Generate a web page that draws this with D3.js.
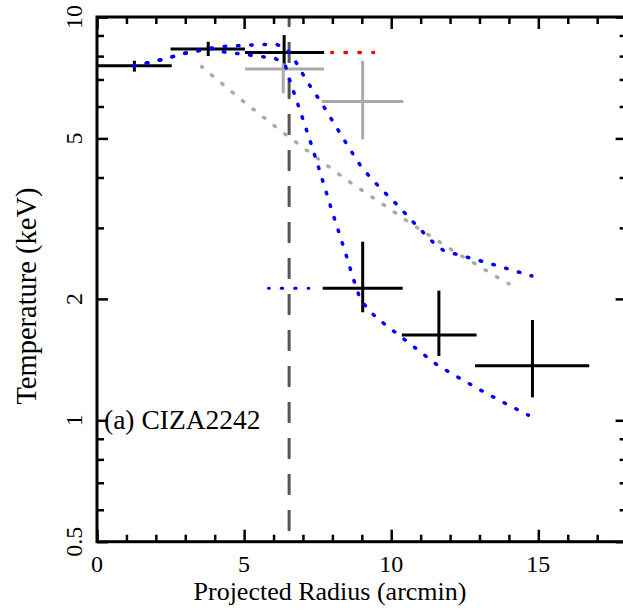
<!DOCTYPE html>
<html>
<head>
<meta charset="utf-8">
<script src="https://cdn.jsdelivr.net/npm/d3@7"></script>
<style>
  html, body { margin: 0; padding: 0; background: #fff; }
  svg { display: block; }
  text { font-family: "Liberation Serif", "Times New Roman", Times, serif; fill: #000; }
</style>
</head>
<body>
<script>
// ---------------- data ----------------
const xMajorTicks = [0, 5, 10, 15];
const xMinorTicks = [1, 2, 3, 4, 6, 7, 8, 9, 11, 12, 13, 14, 16, 17];
const yMajorTicks = [0.5, 1, 2, 5, 10];
const yMinorTicks = [0.6, 0.7, 0.8, 0.9, 3, 4, 6, 7, 8, 9];

// black data points (projected radius, temperature)
const blackR    = [1.27, 3.78, 6.36, 9.03, 11.62, 14.8];
const blackRLo  = [0.0, 2.50, 5.03, 7.67, 10.36, 12.85];
const blackRHi  = [2.54, 5.03, 7.72, 10.39, 12.90, 16.73];
const blackT    = [7.57, 8.33, 8.17, 2.125, 1.627, 1.365];
const blackTLo  = [7.32, 8.00, 7.56, 1.853, 1.443, 1.14];
const blackTHi  = [7.79, 8.68, 9.02, 2.773, 2.097, 1.773];

// grey data points
const greyR   = [6.33, 9.03];
const greyRLo = [5.03, 7.64];
const greyRHi = [7.72, 10.41];
const greyT   = [7.43, 6.17];
const greyTLo = [6.47, 4.97];
const greyTHi = [7.68, 7.78];

// blue dotted model curve, gentle branch
const blueUpperR = [1.26, 2.14, 2.99, 3.86, 4.28, 5.18, 6.08, 6.45, 6.70, 7.13, 7.62, 8.09, 8.54, 9.02, 9.62, 10.24, 10.84, 11.45, 11.80, 12.65, 13.50, 14.78];
const blueUpperT = [7.57, 7.82, 8.13, 8.36, 8.45, 8.52, 8.57, 8.33, 7.87, 6.94, 6.14, 5.40, 4.77, 4.21, 3.77, 3.40, 3.05, 2.75, 2.63, 2.53, 2.43, 2.28];
// blue dotted model curve, steep branch
const blueLowerR = [1.26, 2.14, 2.99, 3.86, 4.28, 5.18, 6.05, 6.39, 6.50, 6.79, 7.21, 7.61, 8.00, 8.41, 8.80, 8.97, 9.48, 10.53, 11.57, 12.34, 13.11, 13.89, 14.66];
const blueLowerT = [7.57, 7.82, 8.13, 8.36, 8.20, 8.05, 7.90, 7.63, 7.15, 6.19, 5.02, 4.06, 3.28, 2.65, 2.14, 1.98, 1.80, 1.57, 1.37, 1.27, 1.18, 1.10, 1.03];
// grey dotted curve
const greyCurveR = [3.56, 4.92, 6.31, 7.01, 7.72, 8.43, 9.17, 9.88, 10.62, 11.38, 12.11, 12.87, 13.62, 14.0];
const greyCurveT = [7.53, 6.22, 5.18, 4.74, 4.34, 3.97, 3.65, 3.37, 3.09, 2.85, 2.63, 2.44, 2.26, 2.18];
// short horizontal dotted segments
const redSegR = [7.98, 9.4];
const redSegT = [8.17, 8.17];
const blueSegR = [5.83, 7.2];
const blueSegT = [2.125, 2.125];
// vertical dashed marker
const markerR = 6.53;

const xLabel = "Projected Radius (arcmin)";
const yLabel = "Temperature (keV)";
const panelLabel = "(a) CIZA2242";

// ---------------- layout ----------------
(function () {
const W = 623, H = 612;
const pL = 97, pR = 626.6, pT = 17, pB = 541.7;

const svg = d3.select("body").append("svg").attr("width", W).attr("height", H);

const x = d3.scaleLinear().domain([0, 18]).range([pL, pR]);
const y = d3.scaleLog().domain([0.5, 10]).range([pB, pT]);

const zip = (a, b) => a.map((v, i) => [v, b[i]]);
const line = d3.line().x(d => x(d[0])).y(d => y(d[1]));

// vertical dashed
svg.append("line")
  .attr("x1", x(markerR)).attr("x2", x(markerR))
  .attr("y1", y(10)).attr("y2", y(0.5))
  .attr("stroke", "#555").attr("stroke-width", 3)
  .attr("stroke-dasharray", "21,15").attr("stroke-dashoffset", 11);

function dotted(data, color, w) {
  const p = svg.append("path").attr("d", line(data)).attr("fill", "none")
    .attr("stroke", color).attr("stroke-width", w || 3.5)
    .attr("stroke-linecap", "round");
  const L = p.node().getTotalLength();
  const n = Math.max(1, Math.round(L / 13.3));
  const period = L / n;
  const d = 1.5;
  p.attr("stroke-dasharray", `${d},${period - d}`)
   .attr("stroke-dashoffset", d / 2);
}
dotted(zip(greyCurveR, greyCurveT), "#aaaaaa");

function crosses(R, RLo, RHi, T, TLo, THi, color) {
  const g = svg.append("g").attr("stroke", color).attr("stroke-width", 3).attr("fill", "none");
  R.forEach((r, i) => {
    g.append("line").attr("x1", x(RLo[i])).attr("x2", x(RHi[i])).attr("y1", y(T[i])).attr("y2", y(T[i]));
    g.append("line").attr("x1", x(r)).attr("x2", x(r)).attr("y1", y(TLo[i])).attr("y2", y(THi[i]));
  });
}
crosses(blackR, blackRLo, blackRHi, blackT, blackTLo, blackTHi, "#000");
crosses(greyR, greyRLo, greyRHi, greyT, greyTLo, greyTHi, "#aaaaaa");

dotted(zip(blueUpperR, blueUpperT), "#0000ff");
dotted(zip(blueLowerR, blueLowerT), "#0000ff");
dotted(zip(redSegR, redSegT), "#ff0000");
dotted(zip(blueSegR, blueSegT), "#0000ff", 3);

// ---------------- axes ----------------
function styleAxis(g) {
  g.select(".domain").remove();
  g.selectAll(".tick line").attr("stroke", "#000").attr("stroke-width", 2.5);
  g.selectAll(".tick text").remove();
}
svg.append("g").attr("transform", `translate(0,${pB})`)
  .call(d3.axisBottom(x).tickValues(xMajorTicks).tickSize(-12).tickFormat("")).call(styleAxis);
svg.append("g").attr("transform", `translate(0,${pB})`)
  .call(d3.axisBottom(x).tickValues(xMinorTicks).tickSize(-7).tickFormat("")).call(styleAxis);
svg.append("g").attr("transform", `translate(0,${pT})`)
  .call(d3.axisTop(x).tickValues(xMajorTicks).tickSize(-12).tickFormat("")).call(styleAxis);
svg.append("g").attr("transform", `translate(0,${pT})`)
  .call(d3.axisTop(x).tickValues(xMinorTicks).tickSize(-7).tickFormat("")).call(styleAxis);
svg.append("g").attr("transform", `translate(${pL},0)`)
  .call(d3.axisLeft(y).tickValues(yMajorTicks).tickSize(-11).tickFormat("")).call(styleAxis);
svg.append("g").attr("transform", `translate(${pL},0)`)
  .call(d3.axisLeft(y).tickValues(yMinorTicks).tickSize(-7).tickFormat("")).call(styleAxis);
svg.append("g").attr("transform", `translate(${pR},0)`)
  .call(d3.axisRight(y).tickValues(yMajorTicks).tickSize(-11).tickFormat("")).call(styleAxis);
svg.append("g").attr("transform", `translate(${pR},0)`)
  .call(d3.axisRight(y).tickValues(yMinorTicks).tickSize(-7).tickFormat("")).call(styleAxis);

svg.append("rect").attr("x", pL).attr("y", pT)
  .attr("width", pR - pL).attr("height", pB - pT)
  .attr("fill", "none").attr("stroke", "#000").attr("stroke-width", 3);

svg.append("g").selectAll("text").data(xMajorTicks).join("text")
  .attr("x", d => x(d)).attr("y", 572).attr("text-anchor", "middle")
  .attr("font-size", 24).text(d => d);
svg.append("g").selectAll("text").data(yMajorTicks).join("text")
  .attr("transform", d => `translate(82,${y(d)}) rotate(-90)`)
  .attr("text-anchor", "middle").attr("font-size", 24).text(d => d);

svg.append("text").attr("x", 330).attr("y", 600).attr("text-anchor", "middle")
  .attr("font-size", 26).text(xLabel);
svg.append("text").attr("transform", "translate(36,296) rotate(-90)")
  .attr("text-anchor", "middle").attr("font-size", 28.5).text(yLabel);
svg.append("text").attr("x", 104).attr("y", 429).attr("font-size", 27.5).text(panelLabel);
})();
</script>
</body>
</html>
